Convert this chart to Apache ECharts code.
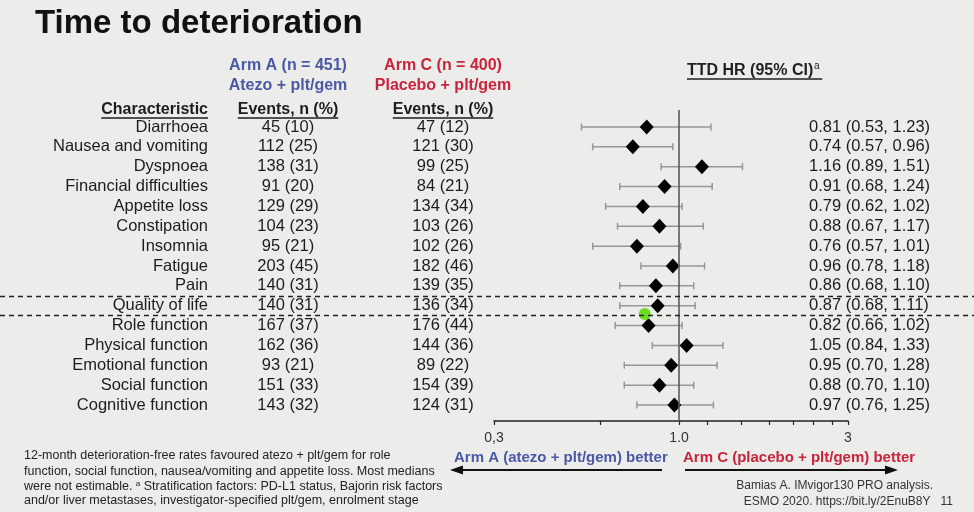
<!DOCTYPE html>
<html>
<head>
<meta charset="utf-8">
<title>Time to deterioration</title>
<script src="https://cdn.jsdelivr.net/npm/echarts@6.0.0/dist/echarts.min.js"></script>
<style>
html, body { margin: 0; padding: 0; background: #ececea; }
#chart { width: 974px; height: 512px; }
</style>
</head>
<body>
<div id="chart"></div>
<script>
// 数据
const characteristics = ['Diarrhoea', 'Nausea and vomiting', 'Dyspnoea', 'Financial difficulties', 'Appetite loss',
    'Constipation', 'Insomnia', 'Fatigue', 'Pain', 'Quality of life', 'Role function', 'Physical function',
    'Emotional function', 'Social function', 'Cognitive function'];
const armAEvents = [45, 112, 138, 91, 129, 104, 95, 203, 140, 140, 167, 162, 93, 151, 143];
const armAPct = [10, 25, 31, 20, 29, 23, 21, 45, 31, 31, 37, 36, 21, 33, 32];
const armCEvents = [47, 121, 99, 84, 134, 103, 102, 182, 139, 136, 176, 144, 89, 154, 124];
const armCPct = [12, 30, 25, 21, 34, 26, 26, 46, 35, 34, 44, 36, 22, 39, 31];
const hr = [0.81, 0.74, 1.16, 0.91, 0.79, 0.88, 0.76, 0.96, 0.86, 0.87, 0.82, 1.05, 0.95, 0.88, 0.97];
const ciLow = [0.53, 0.57, 0.89, 0.68, 0.62, 0.67, 0.57, 0.78, 0.68, 0.68, 0.66, 0.84, 0.70, 0.70, 0.76];
const ciHigh = [1.23, 0.96, 1.51, 1.24, 1.02, 1.17, 1.01, 1.18, 1.10, 1.11, 1.02, 1.33, 1.28, 1.10, 1.25];
const axisTicks = [0.3, 0.6, 1, 1.2, 1.5, 1.8, 2.1, 2.4, 2.7, 3];
const axisLabelValues = [0.3, 1, 3];
const axisLabelTexts = ['0,3', '1.0', '3'];
const separatorRows = [8.5, 9.5];   // 虚线: Quality of life 上下
const pointerDot = [0.80, 9.42];    // 绿色激光笔点

window.onload = function () {
    const FONT = '"Liberation Sans", Arial, sans-serif';
    const BLUE = '#4a59a6';
    const RED = '#c8243c';
    const INK = '#1c1c1c';
    const ROW_SIZE = 16.5;
    const lg = Math.log10;

    // 行的纵向范围 (行号 0..14)
    const yMin = -0.856, yMax = 14.806;

    const fmtEvents = (n, p) => n + ' (' + p + ')';
    const armAText = armAEvents.map((n, i) => fmtEvents(n, armAPct[i]));
    const armCText = armCEvents.map((n, i) => fmtEvents(n, armCPct[i]));
    const hrText = hr.map((v, i) => v.toFixed(2) + ' (' + ciLow[i].toFixed(2) + ', ' + ciHigh[i].toFixed(2) + ')');

    const ciData = hr.map((v, i) => [lg(ciLow[i]), lg(ciHigh[i]), i]);
    const hrData = hr.map((v, i) => [lg(v), i]);

    // 文字宽度 (下划线用)
    const ctx = document.createElement('canvas').getContext('2d');
    function textWidth(s, size, weight) {
        ctx.font = (weight || 'normal') + ' ' + size + 'px ' + FONT;
        return ctx.measureText(s).width;
    }

    function txt(text, x, y, opts) {
        opts = opts || {};
        return {
            type: 'text', x: x, y: y, z: 10,
            style: {
                text: text,
                fontSize: opts.size || 16,
                fontWeight: opts.weight || 'normal',
                fontFamily: FONT,
                fill: opts.color || INK,
                align: opts.align || 'left',
                textAlign: opts.align || 'left',
                verticalAlign: 'middle',
                textVerticalAlign: 'middle',
                rich: opts.rich
            }
        };
    }

    function underlined(text, x, y, align, color, extra) {
        const w = textWidth(text, 16, 'bold') + (extra || 0);
        const x0 = align === 'right' ? x - w : align === 'center' ? x - w / 2 : x;
        return [
            txt(text, x, y, {weight: 'bold', align: align, color: color}),
            {type: 'line', z: 10, shape: {x1: x0, y1: y + 8, x2: x0 + w, y2: y + 8},
                style: {stroke: color, lineWidth: 1.3}}
        ];
    }

    function arrow(xFrom, xTo, y) {
        const dir = xTo > xFrom ? 1 : -1;
        return [
            {type: 'line', z: 10, shape: {x1: xFrom, y1: y, x2: xTo - dir * 8, y2: y},
                style: {stroke: '#111', lineWidth: 2}},
            {type: 'polygon', z: 10, shape: {points: [[xTo, y], [xTo - dir * 13, y - 4.5], [xTo - dir * 13, y + 4.5]]},
                style: {fill: '#111'}}
        ];
    }

    let graphics = [
        txt('Time to deterioration', 35, 24, {size: 33, weight: 'bold', color: '#111'}),
        txt('Arm A (n = 451)', 288, 66, {weight: 'bold', align: 'center', color: BLUE}),
        txt('Atezo + plt/gem', 288, 86, {weight: 'bold', align: 'center', color: BLUE}),
        txt('Arm C (n = 400)', 443, 66, {weight: 'bold', align: 'center', color: RED}),
        txt('Placebo + plt/gem', 443, 86, {weight: 'bold', align: 'center', color: RED}),
        txt('a', 814, 66, {size: 10, color: '#222'}),
        txt('Arm A (atezo + plt/gem) better', 454, 458, {size: 15, weight: 'bold', color: BLUE}),
        txt('Arm C (placebo + plt/gem) better', 683, 458, {size: 15, weight: 'bold', color: RED}),
        txt('12-month deterioration-free rates favoured atezo + plt/gem for role', 24, 456, {size: 12.5, color: '#222'}),
        txt('function, social function, nausea/vomiting and appetite loss. Most medians', 24, 472, {size: 12.5, color: '#222'}),
        txt('were not estimable. {s|a} Stratification factors: PD-L1 status, Bajorin risk factors', 24, 487,
            {size: 12.5, color: '#222', rich: {s: {fontSize: 8, padding: [0, 0, 6, 0], fill: '#222'}}}),
        txt('and/or liver metastases, investigator-specified plt/gem, enrolment stage', 24, 501, {size: 12.5, color: '#222'}),
        txt('Bamias A. IMvigor130 PRO analysis.', 933, 486, {size: 12, align: 'right', color: '#333'}),
        txt('ESMO 2020. https://bit.ly/2EnuB8Y   11', 953, 502, {size: 12, align: 'right', color: '#333'})
    ];
    graphics = graphics
        .concat(underlined('Characteristic', 208, 110, 'right', INK))
        .concat(underlined('Events, n (%)', 288, 110, 'center', INK))
        .concat(underlined('Events, n (%)', 443, 110, 'center', INK))
        .concat(underlined('TTD HR (95% CI)', 687, 71, 'left', '#222', 9))
        .concat(arrow(662, 450, 470))
        .concat(arrow(685, 898, 470));

    function textAxis(data, x, align) {
        return {
            type: 'category', gridIndex: 2, position: 'left', offset: -x, inverse: true,
            data: data,
            axisLine: {show: false}, axisTick: {show: false}, splitLine: {show: false},
            axisLabel: {interval: 0, margin: 0, align: align, fontSize: ROW_SIZE, color: INK, fontFamily: FONT}
        };
    }

    let chart = echarts.init(document.getElementById('chart'));

    let option = {
        backgroundColor: '#ececea',
        animation: false,
        textStyle: {fontFamily: FONT},
        grid: [
            // 森林图
            {left: 494, width: 354, top: 110, height: 311, containLabel: false, outerBoundsMode: 'none'},
            // 全宽虚线
            {left: 0, width: 974, top: 110, height: 311, containLabel: false, outerBoundsMode: 'none'},
            // 表格文字
            {left: 0, width: 974, top: 117.07, height: 297.86, containLabel: false, outerBoundsMode: 'none'}
        ],
        xAxis: [
            {
                type: 'value', gridIndex: 0, min: lg(0.3), max: lg(3), position: 'bottom',
                axisLine: {show: true, onZero: false, lineStyle: {color: '#222', width: 1.5}},
                axisTick: {show: true, length: 4, customValues: axisTicks.map(lg), lineStyle: {color: '#222', width: 1.2}},
                splitLine: {show: false},
                axisLabel: {
                    customValues: axisLabelValues.map(lg), margin: 10, fontSize: 14, color: '#333', fontFamily: FONT,
                    formatter: function (v) {
                        for (let i = 0; i < axisLabelValues.length; i++) {
                            if (Math.abs(lg(axisLabelValues[i]) - v) < 1e-6) return axisLabelTexts[i];
                        }
                        return '';
                    }
                }
            },
            {type: 'value', gridIndex: 1, min: 0, max: 1, show: false, splitLine: {show: false}},
            {type: 'value', gridIndex: 2, min: 0, max: 1, show: false, splitLine: {show: false}}
        ],
        yAxis: [
            {type: 'value', gridIndex: 0, min: yMin, max: yMax, inverse: true, show: false, splitLine: {show: false}},
            {type: 'value', gridIndex: 1, min: yMin, max: yMax, inverse: true, show: false, splitLine: {show: false}},
            textAxis(characteristics, 208, 'right'),
            textAxis(armAText, 288, 'center'),
            textAxis(armCText, 443, 'center'),
            textAxis(hrText, 809, 'left')
        ],
        series: [
            {
                // 95% CI
                type: 'custom', xAxisIndex: 0, yAxisIndex: 0, z: 2,
                encode: {x: [0, 1], y: 2},
                data: ciData,
                renderItem: function (params, api) {
                    const row = api.value(2);
                    const p1 = api.coord([api.value(0), row]);
                    const p2 = api.coord([api.value(1), row]);
                    const h = 3.5;
                    const style = {stroke: '#979797', lineWidth: 1.5};
                    return {
                        type: 'group',
                        children: [
                            {type: 'line', shape: {x1: p1[0], y1: p1[1], x2: p2[0], y2: p2[1]}, style: style},
                            {type: 'line', shape: {x1: p1[0], y1: p1[1] - h, x2: p1[0], y2: p1[1] + h}, style: style},
                            {type: 'line', shape: {x1: p2[0], y1: p2[1] - h, x2: p2[0], y2: p2[1] + h}, style: style}
                        ]
                    };
                }
            },
            {
                // HR = 1 参考线
                type: 'line', xAxisIndex: 0, yAxisIndex: 0, data: [], z: 1,
                markLine: {
                    silent: true, symbol: 'none', label: {show: false},
                    lineStyle: {color: '#5a5a5a', width: 1.6, type: 'solid'},
                    data: [{xAxis: 0}]
                }
            },
            {
                // HR 点
                type: 'scatter', xAxisIndex: 0, yAxisIndex: 0, z: 3,
                symbol: 'diamond', symbolSize: [14, 15],
                itemStyle: {color: '#000', opacity: 1},
                data: hrData
            },
            {
                type: 'scatter', xAxisIndex: 0, yAxisIndex: 0, z: 4,
                symbol: 'circle', symbolSize: 12,
                itemStyle: {color: '#6cdc20', opacity: 1},
                data: [[lg(pointerDot[0]), pointerDot[1]]]
            },
            {
                // 虚线分隔
                type: 'line', xAxisIndex: 1, yAxisIndex: 1, data: [],
                markLine: {
                    silent: true, symbol: 'none', label: {show: false},
                    lineStyle: {color: '#222', width: 1.3, type: [5, 4]},
                    data: separatorRows.map(r => ({yAxis: r}))
                }
            }
        ],
        graphic: graphics
    };

    chart.setOption(option);

    window.onresize = function () {
        chart.resize();
    };
};
</script>
</body>
</html>
